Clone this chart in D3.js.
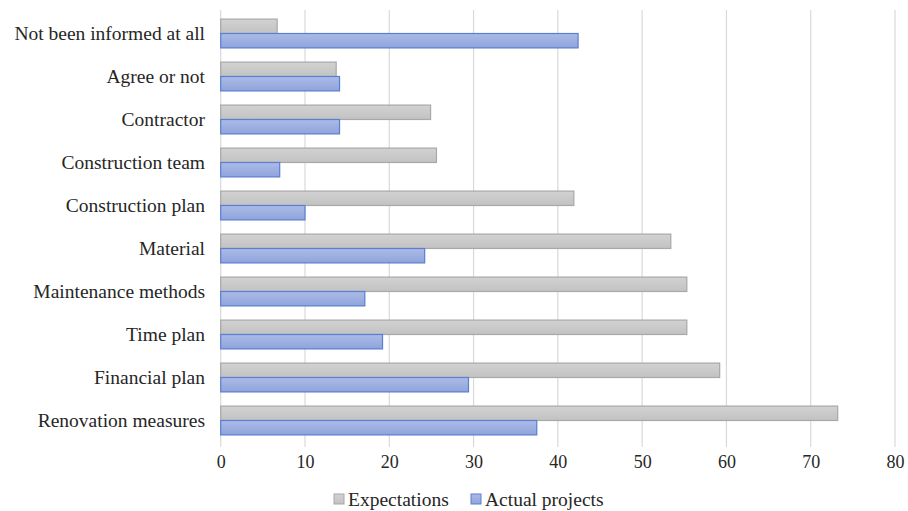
<!DOCTYPE html>
<meta charset="utf-8">
<script src="https://d3js.org/d3.v7.min.js"></script>
<style>
  body { margin: 0; background: #fff; }
  svg text { font-family: "Liberation Serif", "Times New Roman", "DejaVu Serif", serif; fill: #262626; }
</style>
<div id="my_dataviz"></div>
<script>
// data (percent)
var categories = ["Not been informed at all", "Agree or not", "Contractor", "Construction team",
  "Construction plan", "Material", "Maintenance methods", "Time plan", "Financial plan", "Renovation measures"];
var expectations = [6.7, 13.7, 24.9, 25.6, 41.9, 53.4, 55.3, 55.3, 59.2, 73.2];
var actualProjects = [42.4, 14.1, 14.1, 7.0, 10.0, 24.2, 17.1, 19.2, 29.4, 37.5];
var xTicks = [0, 10, 20, 30, 40, 50, 60, 70, 80];
var seriesNames = ["Expectations", "Actual projects"];

var W = 908, H = 511;
var serif = "'Liberation Serif', 'Times New Roman', serif";
var svg = d3.select("#my_dataviz").append("svg")
  .attr("width", W).attr("height", H);

var defs = svg.append("defs");
function grad(id, c1, c2) {
  var g = defs.append("linearGradient").attr("id", id)
    .attr("x1", 0).attr("y1", 0).attr("x2", 0).attr("y2", 1);
  g.append("stop").attr("offset", "0%").attr("stop-color", c1);
  g.append("stop").attr("offset", "100%").attr("stop-color", c2);
}
grad("gGray", "#d2d2d2", "#c2c2c2");
grad("gBlue", "#acbbe7", "#8fa4dc");
var fills = ["url(#gGray)", "url(#gBlue)"];
var strokes = ["#a8a8a8", "#5a7ed0"];

var x = d3.scaleLinear().domain([0, 80]).range([220.7, 895]);
var y = d3.scaleBand().domain(categories).range([12, 442]).paddingInner(0.33).paddingOuter(0.165);
var sub = d3.scaleBand().domain([0, 1]).range([0, y.bandwidth()]);

// gridlines
svg.append("g").selectAll("line").data(xTicks).enter().append("line")
  .attr("x1", function(d) { return x(d); }).attr("x2", function(d) { return x(d); })
  .attr("y1", 10).attr("y2", 447)
  .attr("stroke", "#d9d9d9").attr("stroke-width", 1.2);

// x tick labels
var xAxis = svg.append("g").attr("transform", "translate(0,447)")
  .call(d3.axisBottom(x).tickValues(xTicks).tickSize(0).tickPadding(8));
xAxis.attr("font-family", serif).attr("font-size", null);
xAxis.select(".domain").remove();
xAxis.selectAll("text").style("font-size", "18px").style("font-family", serif).attr("fill", "#262626");

// y labels
var yAxis = svg.append("g").attr("transform", "translate(220,0)")
  .call(d3.axisLeft(y).tickSize(0).tickPadding(15));
yAxis.attr("font-family", serif).attr("font-size", null);
yAxis.select(".domain").remove();
yAxis.selectAll("text").style("font-size", "19.5px").style("font-family", serif).attr("fill", "#262626");

// bars
var series = [expectations, actualProjects];
series.forEach(function(vals, s) {
  svg.append("g").selectAll("rect").data(vals).enter().append("rect")
    .attr("x", x(0))
    .attr("y", function(d, i) { return y(categories[i]) + sub(s); })
    .attr("width", function(d) { return x(d) - x(0); })
    .attr("height", sub.bandwidth())
    .attr("fill", fills[s])
    .attr("stroke", strokes[s]).attr("stroke-width", 1.2);
});

// legend
var legX = [334, 471];
var leg = svg.append("g");
seriesNames.forEach(function(name, s) {
  leg.append("rect").attr("x", legX[s]).attr("y", 494).attr("width", 10).attr("height", 10)
    .attr("fill", fills[s]).attr("stroke", strokes[s]);
  leg.append("text").attr("x", legX[s] + 14).attr("y", 506)
    .style("font-size", "19.5px").style("font-family", serif).text(name);
});
</script>
